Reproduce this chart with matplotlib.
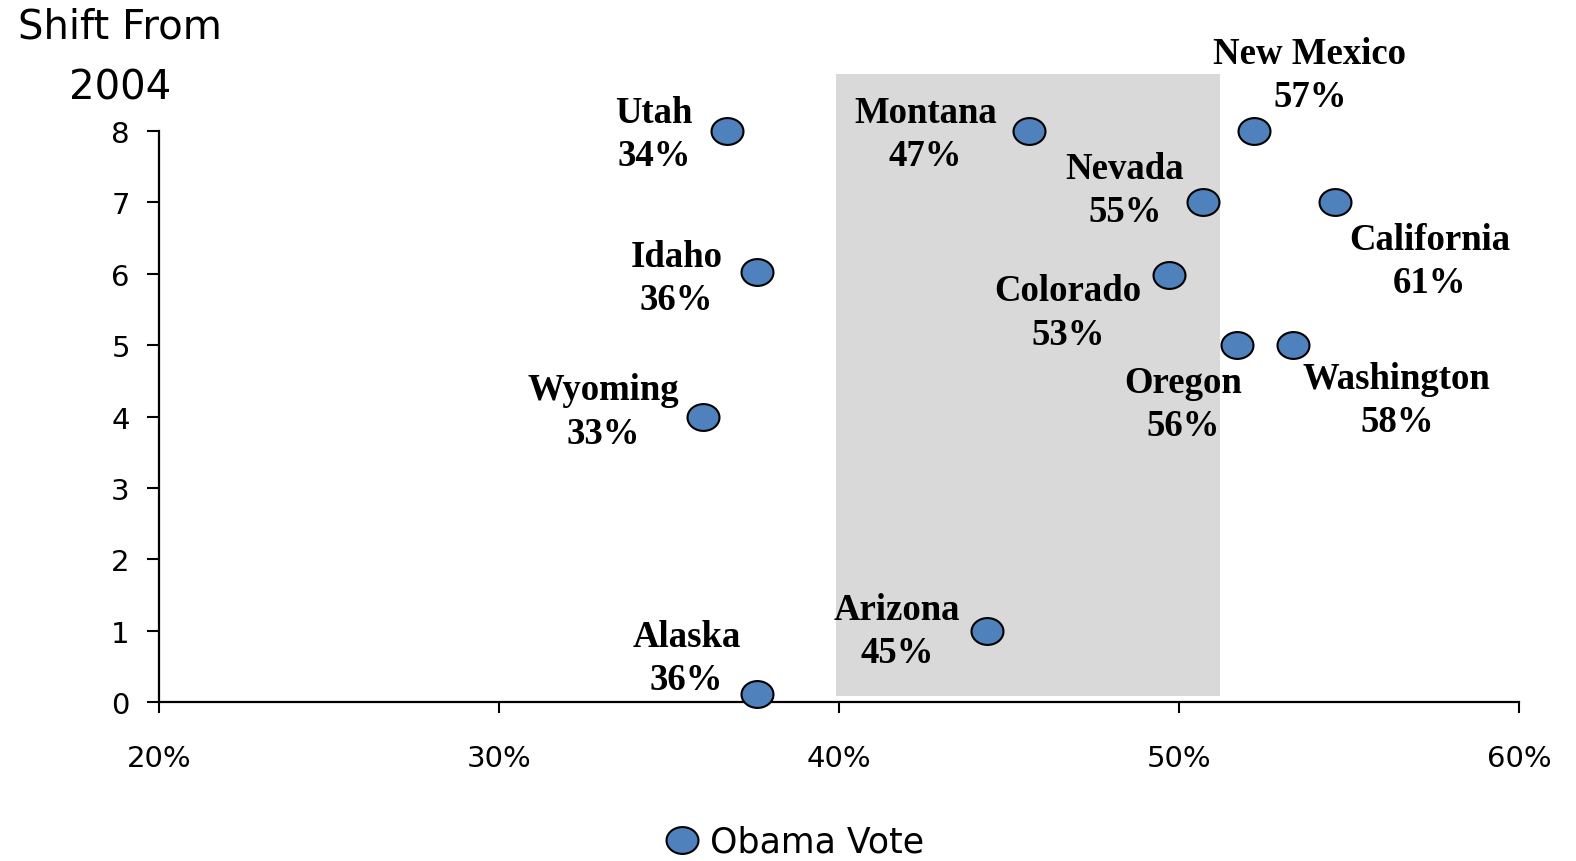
import numpy as np
import matplotlib.pyplot as plt
from matplotlib.path import Path
from matplotlib.patches import Rectangle

# data
states = ["Utah", "Montana", "New Mexico", "Nevada", "California", "Idaho",
          "Colorado", "Oregon", "Washington", "Wyoming", "Arizona", "Alaska"]
obama_vote = [36.7, 45.6, 52.2, 50.7, 54.6, 37.6, 49.7, 51.7, 53.35, 36.0, 44.35, 37.6]
shift = [8, 8, 8, 7, 7, 6.03, 5.99, 5, 5, 4, 1, 0.11]
vote_labels = ["34%", "47%", "57%", "55%", "61%", "36%", "53%", "56%", "58%", "33%", "45%", "36%"]
# label offsets (pixels) from each point
label_dx = [-73, -104, 56, -78, 94, -81, -101, -54, 104, -100, -90, -71]
label_dy = [-3, -3, 56, 12, -59, -6, -38, -59, -55, 5, 0, 36]

band_x = (39.9, 51.2)
band_y = (0.08, 8.81)

# elliptic marker (a bit wider than tall)
t = np.linspace(0, 2 * np.pi, 80)
ellipse = Path(np.column_stack([np.cos(t), 0.84 * np.sin(t)]), closed=True)

fig = plt.figure(figsize=(15.76, 8.62), dpi=100)
ax = fig.add_axes([0.1009, 0.1845, 0.8629, 0.7285])

ax.add_patch(Rectangle((band_x[0], band_y[0]), band_x[1] - band_x[0], band_y[1] - band_y[0],
                       facecolor="#d9d9d9", edgecolor="none", zorder=0))

ax.plot(obama_vote, shift, linestyle="none", marker=ellipse, markersize=23,
        markerfacecolor="#4f81bd", markeredgecolor="black", markeredgewidth=1.5,
        label="Obama Vote", zorder=3, clip_on=False)

for x, y, s, v, dx, dy in zip(obama_vote, shift, states, vote_labels, label_dx, label_dy):
    ax.annotate(s + "\n" + v, (x, y), xytext=(dx, dy), textcoords="offset pixels",
                ha="center", va="center", multialignment="center",
                family="Liberation Serif", fontweight="bold", fontsize=26.5,
                linespacing=1.3, zorder=4, annotation_clip=False)

ax.set_xlim(20, 60)
ax.set_ylim(0, 8.8)
ax.set_xticks([20, 30, 40, 50, 60])
ax.set_xticklabels(["20%", "30%", "40%", "50%", "60%"])
ax.set_yticks(range(0, 9))

for side in ["top", "right"]:
    ax.spines[side].set_visible(False)
for side in ["left", "bottom"]:
    ax.spines[side].set_linewidth(1.6)
ax.spines["left"].set_bounds(0, 8)
ax.tick_params(axis="y", direction="out", length=9, width=1.5, pad=12, labelsize=21)
ax.tick_params(axis="x", direction="out", length=8, width=1.5, pad=22, labelsize=21)

fig.text(120 / 1576, 1 - 58 / 862, "Shift From\n2004", ha="center", va="center",
         multialignment="center", fontsize=29, linespacing=1.65)

fig.legend(loc="center", bbox_to_anchor=(0.503, 1 - 843 / 862), frameon=False,
           fontsize=25, handletextpad=0.2, handlelength=1.2, markerscale=1.0)

plt.savefig("out.png", dpi=100)
